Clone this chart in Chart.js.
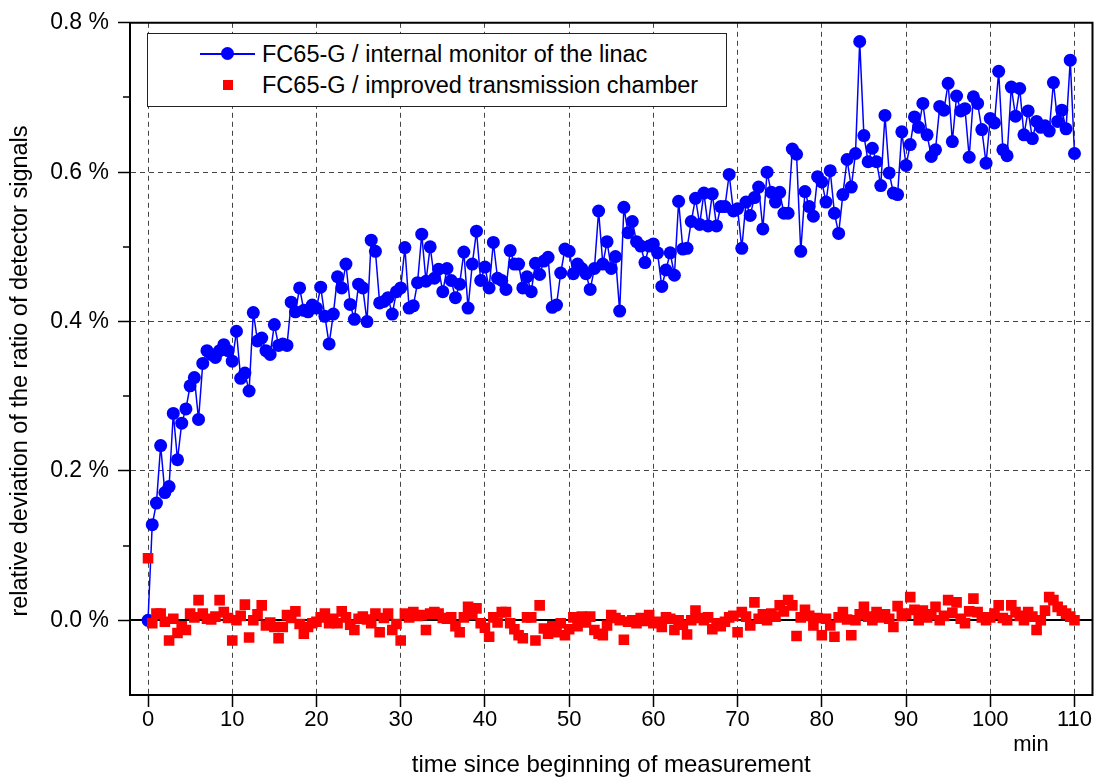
<!DOCTYPE html>
<html lang="en">
<head>
  <meta charset="UTF-8">
  <title>Relative deviation of detector signal ratio</title>
  <script src="https://cdn.jsdelivr.net/npm/chart.js"></script>
  <style>
    body { margin: 0; background: #fff; }
    #wrap { position: relative; width: 1100px; height: 781px; }
    .legend { position: absolute; left: 147px; top: 33px; width: 580px; height: 74px; box-sizing: border-box;
              border: 1px solid #222; background: #fff; font: 23.5px "Liberation Sans", Arial, sans-serif; color: #000; }
    .legend .item { position: absolute; left: 0; height: 28px; line-height: 28px; padding-left: 114px; white-space: nowrap; }
    .legend .sym { position: absolute; left: 52px; top: 0; width: 55px; height: 28px; }
    .legend .sym i { position: absolute; left: 0; right: 0; top: 13px; height: 1.5px; background: #0000ff; }
    .legend .sym em { position: absolute; left: 21px; top: 7px; width: 13px; height: 13px; border-radius: 50%; background: #0000ff; }
    .legend .sym b { position: absolute; left: 23px; top: 9px; width: 10px; height: 10px; background: #ff0000; }
  </style>
</head>
<body>
<div id="wrap">
  <canvas id="chart" width="1100" height="781"></canvas>
  <div class="legend">
    <div class="item" style="top:6px"><span class="sym"><i></i><em></em></span><span id="lab0"></span></div>
    <div class="item" style="top:37px"><span class="sym"><b></b></span><span id="lab1"></span></div>
  </div>
</div>

<script>
// measurement times (min)
const minutes = [
  0,0.5,1,1.5,2,2.5,3,3.5,4,4.5,5,5.5,6,6.5,7,7.5,8,8.5,9,9.5,
  10,10.5,11,11.5,12,12.5,13,13.5,14,14.5,15,15.5,16,16.5,17,17.5,18,18.5,19,19.5,
  20,20.5,21,21.5,22,22.5,23,23.5,24,24.5,25,25.5,26,26.5,27,27.5,28,28.5,29,29.5,
  30,30.5,31,31.5,32,32.5,33,33.5,34,34.5,35,35.5,36,36.5,37,37.5,38,38.5,39,39.5,
  40,40.5,41,41.5,42,42.5,43,43.5,44,44.5,45,45.5,46,46.5,47,47.5,48,48.5,49,49.5,
  50,50.5,51,51.5,52,52.5,53,53.5,54,54.5,55,55.5,56,56.5,57,57.5,58,58.5,59,59.5,
  60,60.5,61,61.5,62,62.5,63,63.5,64,64.5,65,65.5,66,66.5,67,67.5,68,68.5,69,69.5,
  70,70.5,71,71.5,72,72.5,73,73.5,74,74.5,75,75.5,76,76.5,77,77.5,78,78.5,79,79.5,
  80,80.5,81,81.5,82,82.5,83,83.5,84,84.5,85,85.5,86,86.5,87,87.5,88,88.5,89,89.5,
  90,90.5,91,91.5,92,92.5,93,93.5,94,94.5,95,95.5,96,96.5,97,97.5,98,98.5,99,99.5,
  100,100.5,101,101.5,102,102.5,103,103.5,104,104.5,105,105.5,106,106.5,107,107.5,108,108.5,109,109.5,
  110
];

// FC65-G vs. linac internal monitor (%)
const linacMonitor = [
  0.000,0.128,0.157,0.234,0.171,0.179,0.277,0.215,0.264,0.283,
  0.314,0.325,0.269,0.344,0.361,0.356,0.352,0.361,0.369,0.361,
  0.347,0.387,0.324,0.331,0.307,0.412,0.374,0.378,0.361,0.356,
  0.396,0.368,0.370,0.368,0.426,0.413,0.445,0.415,0.413,0.422,
  0.418,0.446,0.407,0.370,0.410,0.460,0.445,0.477,0.423,0.403,
  0.450,0.445,0.400,0.509,0.494,0.425,0.427,0.432,0.410,0.440,
  0.445,0.499,0.418,0.421,0.452,0.517,0.454,0.500,0.458,0.470,
  0.440,0.471,0.455,0.432,0.450,0.493,0.418,0.477,0.521,0.455,
  0.473,0.445,0.506,0.458,0.455,0.443,0.495,0.477,0.477,0.445,
  0.460,0.440,0.478,0.463,0.481,0.486,0.419,0.422,0.465,0.497,
  0.494,0.464,0.477,0.471,0.464,0.443,0.471,0.548,0.477,0.507,
  0.471,0.487,0.414,0.553,0.519,0.534,0.507,0.501,0.479,0.501,
  0.504,0.492,0.447,0.469,0.492,0.462,0.561,0.497,0.498,0.534,
  0.565,0.530,0.572,0.528,0.571,0.528,0.554,0.554,0.597,0.548,
  0.551,0.498,0.560,0.542,0.566,0.580,0.524,0.600,0.573,0.560,
  0.573,0.545,0.545,0.631,0.624,0.494,0.574,0.554,0.541,0.594,
  0.587,0.560,0.602,0.545,0.518,0.570,0.617,0.580,0.625,0.775,
  0.649,0.614,0.632,0.614,0.582,0.676,0.599,0.572,0.570,0.654,
  0.609,0.637,0.674,0.660,0.692,0.650,0.621,0.630,0.688,0.683,
  0.719,0.641,0.702,0.682,0.685,0.620,0.701,0.692,0.657,0.612,
  0.672,0.666,0.735,0.630,0.622,0.714,0.675,0.712,0.650,0.682,
  0.645,0.668,0.660,0.662,0.655,0.720,0.668,0.683,0.658,0.750,
  0.625
];

// FC65-G vs. improved transmission chamber (%)
const transChamber = [
  0.083,-0.004,0.009,0.009,-0.002,-0.027,0.002,-0.017,-0.008,-0.013,
  0.009,0.004,0.027,0.009,0.002,0.001,0.005,0.027,0.011,0.003,
  -0.027,0.000,0.006,0.021,-0.023,0.000,0.008,0.020,-0.007,-0.003,
  -0.009,-0.024,-0.009,0.007,0.003,0.012,-0.005,-0.018,-0.009,-0.004,
  -0.002,0.004,0.009,-0.004,0.002,-0.004,0.012,0.004,-0.006,-0.013,
  0.002,0.005,0.001,-0.004,0.009,-0.016,0.003,0.009,-0.013,-0.005,
  -0.027,0.009,0.004,0.011,0.006,0.007,-0.013,0.009,0.011,0.009,
  0.003,0.002,0.004,-0.008,-0.016,0.004,0.018,0.008,0.016,-0.004,
  -0.010,-0.022,0.004,-0.003,0.011,0.011,-0.004,-0.012,-0.020,-0.024,
  0.004,0.004,-0.027,0.020,-0.011,-0.018,-0.008,-0.016,-0.004,-0.020,
  -0.012,0.004,-0.008,0.005,-0.003,0.005,-0.013,-0.018,-0.020,-0.007,
  0.007,0.003,0.000,-0.026,-0.002,0.000,-0.004,0.003,-0.001,0.007,
  -0.004,-0.002,-0.009,0.004,0.002,-0.013,0.000,-0.006,-0.019,0.000,
  0.013,0.003,0.000,0.004,-0.012,-0.004,-0.008,-0.002,0.004,0.006,
  -0.016,0.011,0.005,-0.007,0.024,0.002,0.008,0.000,0.009,0.005,
  0.020,0.012,0.027,0.020,-0.021,0.004,0.014,0.006,-0.007,0.003,
  -0.020,0.002,-0.007,-0.022,0.004,0.011,0.001,-0.020,0.000,0.008,
  0.018,0.005,0.000,0.011,0.004,0.008,0.002,-0.009,0.019,0.006,
  0.009,0.031,0.014,0.000,0.013,0.004,0.008,0.018,0.000,0.006,
  0.027,0.010,0.024,0.002,-0.004,0.012,0.029,0.011,0.004,0.000,
  0.004,0.009,0.020,0.003,0.000,0.020,0.011,0.006,0.000,0.011,
  0.005,-0.013,0.000,0.013,0.031,0.027,0.018,0.013,0.009,0.005,
  0.000
];

const seriesNames = ['FC65-G / internal monitor of the linac', 'FC65-G / improved transmission chamber'];
const xTicks = [0, 10, 20, 30, 40, 50, 60, 70, 80, 90, 100, 110];
const yMajor = [0, 0.2, 0.4, 0.6, 0.8];
const yMinor = [0.1, 0.3, 0.5, 0.7];
const xTitle = 'time since beginning of measurement';
const yTitle = 'relative deviation of the ratio of detector signals';
const xUnit = 'min';

document.getElementById('lab0').textContent = seriesNames[0];
document.getElementById('lab1').textContent = seriesNames[1];

const FONT = '"Liberation Sans", Arial, Helvetica, sans-serif';
Chart.defaults.font.family = FONT;
Chart.defaults.color = '#000';

const pts = vals => vals.map((v, i) => ({x: minutes[i], y: v}));

// zero line, closed frame, minor ticks and extra texts
const framePlugin = {
  id: 'frame',
  beforeDatasetsDraw(chart) {
    const {ctx, chartArea: a, scales: {y}} = chart;
    const y0 = Math.round(y.getPixelForValue(0));
    ctx.save();
    ctx.strokeStyle = '#000';
    ctx.lineWidth = 2;
    ctx.beginPath();
    ctx.moveTo(a.left, y0);
    ctx.lineTo(a.right, y0);
    ctx.stroke();
    ctx.restore();
  },
  afterDraw(chart) {
    const {ctx, chartArea: a, scales: {y}} = chart;
    ctx.save();
    ctx.strokeStyle = '#000';
    ctx.lineWidth = 2;
    ctx.beginPath();
    ctx.moveTo(a.left - 1, a.top);
    ctx.lineTo(a.right, a.top);
    ctx.lineTo(a.right, a.bottom + 1);
    ctx.stroke();

    ctx.lineWidth = 1.5;
    yMinor.forEach(v => {
      const py = Math.round(y.getPixelForValue(v));
      ctx.beginPath();
      ctx.moveTo(a.left - 7, py);
      ctx.lineTo(a.left, py);
      ctx.stroke();
    });

    ctx.fillStyle = '#000';
    ctx.font = '22px ' + FONT;
    ctx.textAlign = 'center';
    ctx.textBaseline = 'middle';
    ctx.fillText(xUnit, 1031, 745);

    ctx.font = '23.5px ' + FONT;
    ctx.translate(21, 371);
    ctx.rotate(-Math.PI / 2);
    ctx.fillText(yTitle, 0, 0);
    ctx.restore();
  }
};

new Chart(document.getElementById('chart'), {
  type: 'scatter',
  data: {
    datasets: [
      {
        label: seriesNames[0],
        data: pts(linacMonitor),
        showLine: true,
        borderColor: '#0000ff',
        borderWidth: 1.5,
        backgroundColor: '#0000ff',
        pointRadius: 6.5,
        pointBorderWidth: 0,
        order: 1
      },
      {
        label: seriesNames[1],
        data: pts(transChamber),
        showLine: false,
        backgroundColor: '#ff0000',
        borderColor: '#ff0000',
        pointStyle: 'rect',
        pointRadius: 7.5,
        pointBorderWidth: 0,
        order: 0
      }
    ]
  },
  options: {
    responsive: false,
    animation: false,
    devicePixelRatio: 1,
    layout: { padding: { top: 21, right: 7, left: 0, bottom: 0 } },
    plugins: { legend: { display: false }, tooltip: { enabled: false } },
    scales: {
      x: {
        type: 'linear',
        min: -2.14,
        max: 112.14,
        afterBuildTicks: s => { s.ticks = xTicks.map(v => ({value: v})); },
        afterFit: s => { s.height = 86; },
        ticks: { autoSkip: false, maxRotation: 0, padding: 0, font: { size: 22 } },
        grid: { color: '#444', lineWidth: 1, tickLength: 12, tickColor: '#000', tickWidth: 1.5 },
        border: { display: true, color: '#000', width: 2, dash: [5, 4] },
        title: { display: true, text: xTitle, font: { size: 24 }, padding: { top: 0, bottom: 1 } }
      },
      y: {
        min: -0.1,
        max: 0.8,
        afterBuildTicks: s => { s.ticks = yMajor.map(v => ({value: v})); },
        afterFit: s => { s.width = 130; },
        ticks: { autoSkip: false, padding: 9, font: { size: 23 }, callback: v => v.toFixed(1) + ' %' },
        grid: {
          color: c => (c.tick && (c.tick.value === 0 || c.tick.value === 0.8)) ? 'rgba(0,0,0,0)' : '#444',
          lineWidth: 1, tickLength: 12, tickColor: '#000', tickWidth: 1.5
        },
        border: { display: true, color: '#000', width: 2, dash: [5, 4] }
      }
    }
  },
  plugins: [framePlugin]
});
</script>
</body>
</html>
